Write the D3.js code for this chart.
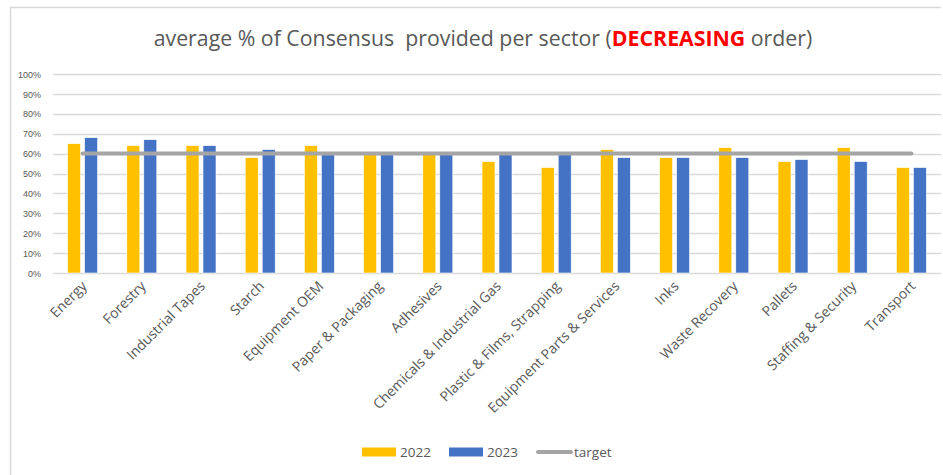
<!DOCTYPE html>
<html lang="en">
<head>
<meta charset="UTF-8">
<title>average % of Consensus provided per sector</title>
<script src="https://cdn.jsdelivr.net/npm/d3@7"></script>
<style>
  html, body { margin: 0; padding: 0; background: #fff; }
  svg { display: block; font-family: "Open Sans", "Liberation Sans", sans-serif; }
</style>
</head>
<body>
<div id="chart"></div>
<script>
// data
const sectors = ["Energy", "Forestry", "Industrial Tapes", "Starch", "Equipment OEM",
  "Paper & Packaging", "Adhesives", "Chemicals & Industrial Gas", "Plastic & Films, Strapping",
  "Equipment Parts & Services", "Inks", "Waste Recovery", "Pallets", "Staffing & Security", "Transport"];
const values2022 = [65, 64, 64, 58, 64, 60, 60, 56, 53, 62, 58, 63, 56, 63, 53];
const values2023 = [68, 67, 64, 62, 60, 60, 60, 60, 60, 58, 58, 58, 57, 56, 53];
const target = [60, 60, 60, 60, 60, 60, 60, 60, 60, 60, 60, 60, 60, 60, 60];
const yTicks = [0, 10, 20, 30, 40, 50, 60, 70, 80, 90, 100];
const seriesNames = ["2022", "2023"];
const colors = { "2022": "#FFC000", "2023": "#4472C4", target: "#A5A5A5" };

const width = 943, height = 475;
const margin = { left: 53, right: 2, top: 74, bottom: 202 };

const svg = d3.select("#chart").append("svg")
  .attr("width", width)
  .attr("height", height);

// chart frame (cropped on the right and bottom)
svg.append("path")
  .attr("d", "M10.5,475 V7.5 H941")
  .attr("fill", "none")
  .attr("stroke", "#D9D9D9")
  .attr("stroke-width", 1.5);

const x = d3.scaleBand()
  .domain(sectors)
  .range([margin.left, width - margin.right]);

const x1 = d3.scaleBand()
  .domain(seriesNames)
  .range([0, x.bandwidth()])
  .paddingInner(0.235)
  .paddingOuter(0.86);

const y = d3.scaleLinear()
  .domain([0, 100])
  .range([height - margin.bottom, margin.top]);

// gridlines
svg.append("g")
  .selectAll("line")
  .data(yTicks)
  .join("line")
  .attr("x1", margin.left)
  .attr("x2", width - margin.right)
  .attr("y1", d => Math.round(y(d)) + 0.5)
  .attr("y2", d => Math.round(y(d)) + 0.5)
  .attr("stroke", "#D9D9D9")
  .attr("stroke-width", 1.3);

// y axis labels
const yAxis = svg.append("g")
  .attr("transform", `translate(${margin.left - 9},0)`)
  .call(d3.axisLeft(y).tickValues(yTicks).tickFormat(d => d + "%").tickSize(0));
yAxis.select(".domain").remove();
yAxis.selectAll("text")
  .attr("fill", "#595959")
  .style("font-size", "9px")
  .attr("dy", "0.35em");

// bars
const rows = sectors.map((s, i) => ({ sector: s, "2022": values2022[i], "2023": values2023[i] }));
svg.append("g")
  .selectAll("g")
  .data(rows)
  .join("g")
  .attr("transform", d => `translate(${x(d.sector)},0)`)
  .selectAll("rect")
  .data(d => seriesNames.map(k => ({ key: k, value: d[k] })))
  .join("rect")
  .attr("x", d => x1(d.key))
  .attr("width", x1.bandwidth())
  .attr("y", d => y(d.value))
  .attr("height", d => y(0) - y(d.value))
  .attr("fill", d => colors[d.key])
  .attr("stroke", "#fff")
  .attr("stroke-width", 0.6);

// target line
const line = d3.line()
  .x((d, i) => x(sectors[i]) + x.bandwidth() / 2)
  .y(d => y(d));
svg.append("path")
  .datum(target)
  .attr("d", line)
  .attr("fill", "none")
  .attr("stroke", colors.target)
  .attr("stroke-width", 4)
  .attr("stroke-linecap", "round");

// x axis labels, rotated
svg.append("g")
  .selectAll("text")
  .data(sectors)
  .join("text")
  .attr("transform", d => `translate(${x(d) + x.bandwidth() / 2 + 5},${y(0) + 14}) rotate(-45)`)
  .attr("text-anchor", "end")
  .attr("fill", "#595959")
  .style("font-size", "14px")
  .text(d => d);

// title
const title = svg.append("text")
  .attr("x", 483)
  .attr("y", 46)
  .attr("text-anchor", "middle")
  .attr("fill", "#595959")
  .style("font-size", "21.3px");
title.append("tspan").text("average % of Consensus  provided per sector (").attr("xml:space", "preserve");
title.append("tspan").text("DECREASING").attr("fill", "#FF0000").attr("font-weight", "bold");
title.append("tspan").text(" order)");

// legend
const legend = svg.append("g").attr("transform", "translate(0,452)");
const legendItems = [
  { name: "2022", x: 362, type: "rect" },
  { name: "2023", x: 449, type: "rect" },
  { name: "target", x: 536, type: "line" }
];
legendItems.forEach(it => {
  if (it.type === "rect") {
    legend.append("rect")
      .attr("x", it.x).attr("y", -4.5)
      .attr("width", 34).attr("height", 9)
      .attr("fill", colors[it.name]);
  } else {
    legend.append("line")
      .attr("x1", it.x + 2).attr("x2", it.x + 35)
      .attr("y1", 0).attr("y2", 0)
      .attr("stroke", colors.target)
      .attr("stroke-width", 4)
      .attr("stroke-linecap", "round");
  }
  legend.append("text")
    .attr("x", it.x + 38)
    .attr("y", 0)
    .attr("dy", "0.35em")
    .attr("fill", "#595959")
    .style("font-size", "13.5px")
    .text(it.name);
});
</script>
</body>
</html>
